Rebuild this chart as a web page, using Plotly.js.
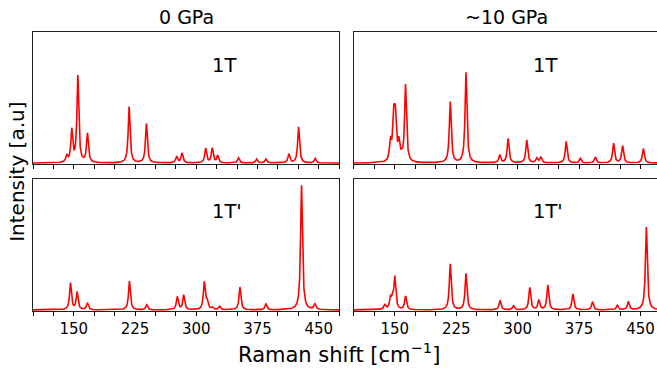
<!DOCTYPE html>
<html>
<head>
<meta charset="utf-8">
<script src="https://cdn.plot.ly/plotly-3.0.1.min.js"></script>
<style>
html,body{margin:0;padding:0;overflow:hidden;background:#fff;}
#chart{width:661px;height:371px;}
</style>
</head>
<body>
<div id="chart"></div>
<script>
// Peak positions (cm^-1) and heights (fraction of panel height)
const t0Pos = [141.4,147.5,154.9,166.7,217.7,238.9,276.0,282.5,311.5,319.6,326.2,351.8,373.9,385.3,413.4,425.3,445.7];
const t0Amp = [0.05,0.245,0.66,0.22,0.43,0.30,0.05,0.075,0.112,0.112,0.055,0.04,0.03,0.03,0.068,0.275,0.035];

const t10Pos = [144.7,148.6,150.6,154.9,158.2,163.1,217.7,236.9,278.1,288.3,311.1,323.3,328.2,359.2,376.4,394.7,417.1,428.1,453.4];
const t10Amp = [0.15,0.32,0.32,0.14,0.03,0.59,0.465,0.69,0.06,0.185,0.175,0.035,0.045,0.165,0.035,0.045,0.15,0.13,0.11];

const p0Pos = [145.9,154.0,166.7,218.1,239.3,276.8,284.6,309.8,313.1,319.6,328.6,353.5,385.3,428.9,445.2];
const p0Amp = [0.205,0.135,0.053,0.22,0.038,0.10,0.112,0.21,0.06,0.018,0.026,0.175,0.048,0.955,0.045];

const p10Pos = [137.8,144.7,147.1,150.0,163.1,217.7,236.9,278.5,294.8,314.8,325.8,336.8,367.4,391.4,421.6,435.1,457.1];
const p10Amp = [0.038,0.085,0.06,0.245,0.104,0.352,0.278,0.072,0.031,0.17,0.074,0.19,0.122,0.062,0.034,0.062,0.635];

const tickVals = [100,125,150,175,200,225,250,275,300,325,350,375,400,425,450,475];
const tickText = ['','','150','','','225','','','300','','','375','','','450',''];

const xMin = 100, xMax = 475, gamma = 1.35, step = 0.1;

function spectrum(pos, amp){
  const xs = [], ys = [];
  for (let x = xMin; x <= xMax + 1e-9; x += step){
    let y = 0;
    for (let i = 0; i < pos.length; i++){
      const d = (x - pos[i]) / gamma;
      y += amp[i] / (1 + d*d);
    }
    xs.push(+x.toFixed(2)); ys.push(y);
  }
  return {xs, ys};
}

const panels = [
  {pos:t0Pos, amp:t0Amp, xa:'x', ya:'y'},
  {pos:t10Pos, amp:t10Amp, xa:'x2', ya:'y2'},
  {pos:p0Pos, amp:p0Amp, xa:'x3', ya:'y3'},
  {pos:p10Pos, amp:p10Amp, xa:'x4', ya:'y4'}
];

const traces = panels.map(p => {
  const s = spectrum(p.pos, p.amp);
  return {x:s.xs, y:s.ys, xaxis:p.xa, yaxis:p.ya, type:'scatter', mode:'lines',
          line:{color:'#ff0000', width:1.6}, hoverinfo:'skip', showlegend:false};
});

const font = {family:'DejaVu Sans, sans-serif', color:'#000'};
function xaxis(domain, anchor, labels){
  return {domain:domain, anchor:anchor, range:[xMin,xMax], tickmode:'array', tickvals:tickVals,
    ticktext:tickText, showticklabels:labels, ticks:'outside', ticklen:3.5, tickwidth:1, tickcolor:'#000',
    showline:true, mirror:true, linecolor:'#222', linewidth:1, showgrid:false, zeroline:false,
    tickfont:{family:font.family, size:15, color:'#000'}};
}
function yaxis(domain, anchor){
  return {domain:domain, anchor:anchor, range:[-0.008,1.0], showticklabels:false, ticks:'',
    showline:true, mirror:true, linecolor:'#222', linewidth:1, showgrid:false, zeroline:false};
}
const dxL = [0, 0.4875], dxR = [0.5109, 1];
const dyT = [0.5264, 1], dyB = [0, 0.4715];

const ann = (text, x, y, xref, yref, size, extra) => Object.assign({text, x, y, xref, yref,
  showarrow:false, font:{family:font.family, size:size, color:'#000'}}, extra||{});

const layout = {
  width:661, height:371,
  margin:{l:33.3, r:0, t:32, b:60.3, pad:0},
  paper_bgcolor:'#fff', plot_bgcolor:'#fff',
  font:font,
  xaxis:xaxis(dxL,'y',false), yaxis:yaxis(dyT,'x'),
  xaxis2:xaxis(dxR,'y2',false), yaxis2:yaxis(dyT,'x2'),
  xaxis3:xaxis(dxL,'y3',true), yaxis3:yaxis(dyB,'x3'),
  xaxis4:xaxis(dxR,'y4',true), yaxis4:yaxis(dyB,'x4'),
  annotations:[
    ann('0 GPa', 0.2437, 1.052, 'paper', 'paper', 19, {xanchor:'center', yanchor:'middle'}),
    ann('~10 GPa', 0.7547, 1.052, 'paper', 'paper', 19, {xanchor:'center', yanchor:'middle'}),
    ann('Intensity [a.u]', -0.026, 0.4977, 'paper', 'paper', 20, {xanchor:'center', yanchor:'middle', textangle:-90}),
    ann('Raman shift [cm<sup>−1</sup>]', 0.487, -0.152, 'paper', 'paper', 21, {xanchor:'center', yanchor:'middle'}),
    ann('1T', 0.577, 0.75, 'x domain', 'y domain', 19.5, {xanchor:'left', yanchor:'middle'}),
    ann('1T', 0.577, 0.75, 'x2 domain', 'y2 domain', 19.5, {xanchor:'left', yanchor:'middle'}),
    ann("1T'", 0.577, 0.757, 'x3 domain', 'y3 domain', 19.5, {xanchor:'left', yanchor:'middle'}),
    ann("1T'", 0.577, 0.757, 'x4 domain', 'y4 domain', 19.5, {xanchor:'left', yanchor:'middle'})
  ]
};

Plotly.newPlot('chart', traces, layout, {staticPlot:true, displayModeBar:false});
</script>
</body>
</html>
